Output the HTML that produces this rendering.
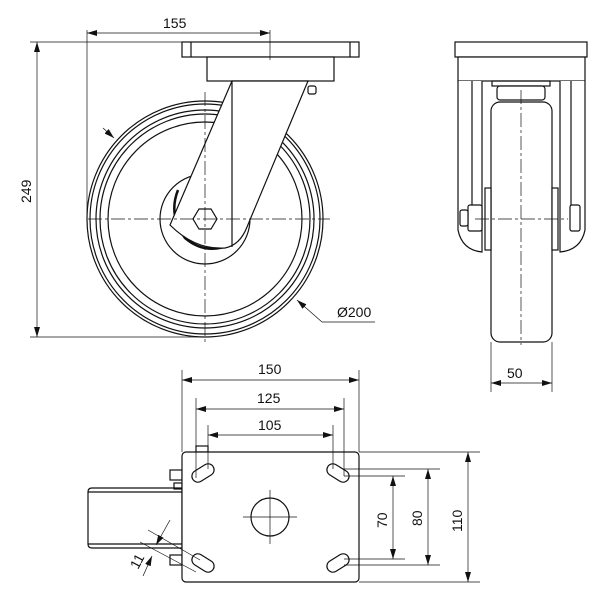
<!DOCTYPE html>
<html><head><meta charset="utf-8"><style>
html,body{margin:0;padding:0;background:#fff;}
svg{display:block;}
text{font-family:"Liberation Sans","DejaVu Sans",sans-serif;font-size:14px;fill:#111;}
</style></head><body>
<svg width="600" height="610" viewBox="0 0 600 610" xmlns="http://www.w3.org/2000/svg">
<defs>
<marker id="a" viewBox="0 0 10 6" refX="10" refY="3" markerWidth="10" markerHeight="6" orient="auto-start-reverse" markerUnits="userSpaceOnUse"><path d="M0,0 L10,3 L0,6 z" fill="#111"/></marker>
</defs>
<g fill="none" stroke="#111" stroke-width="1.2">
<!-- ===== Front view ===== -->
<circle cx="205" cy="219" r="118"/>
<circle cx="205" cy="219" r="115"/>
<circle cx="205" cy="219" r="109"/>
<circle cx="205" cy="219" r="105"/>
<circle cx="205" cy="219" r="97"/>
<circle cx="205" cy="219" r="45" fill="#fff"/>
<path d="M178,190 Q168,215 185,238 Q205,255 230,245" stroke-width="2.5"/>
<!-- plates -->
<rect x="182" y="42" width="177" height="15" fill="#fff"/>
<line x1="191" y1="42" x2="191" y2="57"/><line x1="350" y1="42" x2="350" y2="57"/>
<rect x="207" y="57" width="127" height="24" fill="#fff"/>
<!-- fork -->
<path d="M232,81 L308,81 L247,227 Q240,245 225,248 Q195,250 170,225 Z" fill="#fff"/>
<line x1="232" y1="81" x2="232" y2="247"/>
<rect x="308" y="86" width="8" height="8" rx="2"/>
<polygon points="217,219 211,229 199,229 193,219 199,209 211,209" fill="#fff"/>
<!-- centerlines -->
<g stroke-width="0.7" stroke-dasharray="14,3,3,3">
<line x1="88" y1="219" x2="330" y2="219"/>
<line x1="205" y1="92" x2="205" y2="345"/>
</g>
<!-- dims front -->
<g stroke-width="0.7">
<line x1="87" y1="33" x2="270" y2="33" marker-start="url(#a)" marker-end="url(#a)"/>
<line x1="87" y1="30" x2="87" y2="220"/>
<line x1="270" y1="30" x2="270" y2="60"/>
<line x1="37" y1="42" x2="37" y2="337" marker-start="url(#a)" marker-end="url(#a)"/>
<line x1="30" y1="42" x2="182" y2="42"/>
<line x1="30" y1="337" x2="205" y2="337"/>
<line x1="375" y1="322" x2="322" y2="322"/>
<line x1="322" y1="322" x2="297" y2="300" marker-end="url(#a)"/>
<line x1="103" y1="128" x2="114" y2="138" marker-end="url(#a)"/>
</g>
<!-- ===== Side view ===== -->
<rect x="455" y="42" width="132" height="15" fill="#fff"/>
<rect x="458" y="57" width="127" height="24" fill="#fff"/>
<path d="M458,81 L458,230 Q462,250 482,252 L482,81" fill="#fff"/>
<line x1="472" y1="81" x2="472" y2="230"/>
<path d="M585,81 L585,230 Q581,250 560,252 L560,81" fill="#fff"/>
<line x1="571" y1="81" x2="571" y2="230"/>
<rect x="492" y="81" width="58" height="5"/>
<rect x="497" y="86" width="48" height="14" rx="3" fill="#fff"/>
<rect x="491" y="102" width="61" height="240" rx="9" fill="#fff"/>
<rect x="485" y="188" width="6" height="62" fill="#fff"/>
<rect x="552" y="188" width="6" height="62" fill="#fff"/>
<rect x="468" y="205" width="14" height="26" rx="2" fill="#fff"/>
<rect x="460" y="210" width="8" height="16" rx="2" fill="#fff"/>
<rect x="570" y="205" width="10" height="26" rx="2" fill="#fff"/>
<g stroke-width="0.7" stroke-dasharray="14,3,3,3">
<line x1="521" y1="90" x2="521" y2="345"/>
<line x1="475" y1="219" x2="568" y2="219"/>
</g>
<g stroke-width="0.7">
<line x1="491" y1="342" x2="491" y2="392"/>
<line x1="552" y1="342" x2="552" y2="392"/>
<line x1="491" y1="383" x2="552" y2="383" marker-start="url(#a)" marker-end="url(#a)"/>
</g>
<!-- ===== Top view ===== -->
<path d="M92,488 L182,488 L182,548 L92,548 Q88,548 88,544 L88,492 Q88,488 92,488 Z" fill="#fff"/>
<line x1="88" y1="492" x2="182" y2="492"/>
<line x1="88" y1="544" x2="182" y2="544"/>
<rect x="170" y="470" width="12" height="10"/>
<rect x="170" y="555" width="12" height="10"/>
<rect x="174" y="483" width="8" height="6"/>
<rect x="196" y="446" width="12" height="6"/>
<rect x="182" y="452" width="177" height="130" rx="4" fill="#fff"/>
<circle cx="270" cy="517" r="19"/>
<g stroke-width="0.7">
<line x1="243" y1="517" x2="297" y2="517"/>
<line x1="270" y1="490" x2="270" y2="544"/>
</g>
<g>
<rect x="191" y="467" width="24" height="12" rx="6" transform="rotate(-32 203 473)"/>
<rect x="326" y="467" width="24" height="12" rx="6" transform="rotate(32 338 473)"/>
<rect x="191" y="557" width="24" height="12" rx="6" transform="rotate(32 203 563)"/>
<rect x="326" y="557" width="24" height="12" rx="6" transform="rotate(-32 338 563)"/>
</g>
<g stroke-width="0.7">
<line x1="182" y1="370" x2="182" y2="452"/>
<line x1="359" y1="370" x2="359" y2="452"/>
<line x1="182" y1="380" x2="359" y2="380" marker-start="url(#a)" marker-end="url(#a)"/>
<line x1="196" y1="398" x2="196" y2="478"/>
<line x1="344" y1="398" x2="344" y2="476"/>
<line x1="196" y1="409" x2="344" y2="409" marker-start="url(#a)" marker-end="url(#a)"/>
<line x1="208" y1="425" x2="208" y2="469"/>
<line x1="333" y1="425" x2="333" y2="469"/>
<line x1="208" y1="435" x2="333" y2="435" marker-start="url(#a)" marker-end="url(#a)"/>
<line x1="359" y1="452" x2="480" y2="452"/>
<line x1="359" y1="582" x2="480" y2="582"/>
<line x1="344" y1="469" x2="440" y2="469"/>
<line x1="344" y1="565" x2="440" y2="565"/>
<line x1="344" y1="476" x2="405" y2="476"/>
<line x1="344" y1="559" x2="405" y2="559"/>
<line x1="393" y1="476" x2="393" y2="559" marker-start="url(#a)" marker-end="url(#a)"/>
<line x1="428" y1="469" x2="428" y2="565" marker-start="url(#a)" marker-end="url(#a)"/>
<line x1="468" y1="452" x2="468" y2="582" marker-start="url(#a)" marker-end="url(#a)"/>
<line x1="148" y1="530" x2="200" y2="560"/>
<line x1="140" y1="542" x2="196" y2="572"/>
<line x1="170" y1="520" x2="156" y2="545" marker-end="url(#a)"/>
<line x1="143" y1="576" x2="152" y2="556" marker-end="url(#a)"/>
</g>
</g>
<!-- labels -->
<text x="163" y="28">155</text>
<text transform="translate(31,203) rotate(-90)">249</text>
<text x="337" y="317">Ø200</text>
<text x="507" y="378">50</text>
<text x="258" y="374">150</text>
<text x="257" y="403">125</text>
<text x="258" y="430">105</text>
<text transform="translate(387,528) rotate(-90)">70</text>
<text transform="translate(422,526) rotate(-90)">80</text>
<text transform="translate(462,532) rotate(-90)">110</text>
<text transform="translate(138,570) rotate(-62)">11</text>
</svg>
</body></html>
